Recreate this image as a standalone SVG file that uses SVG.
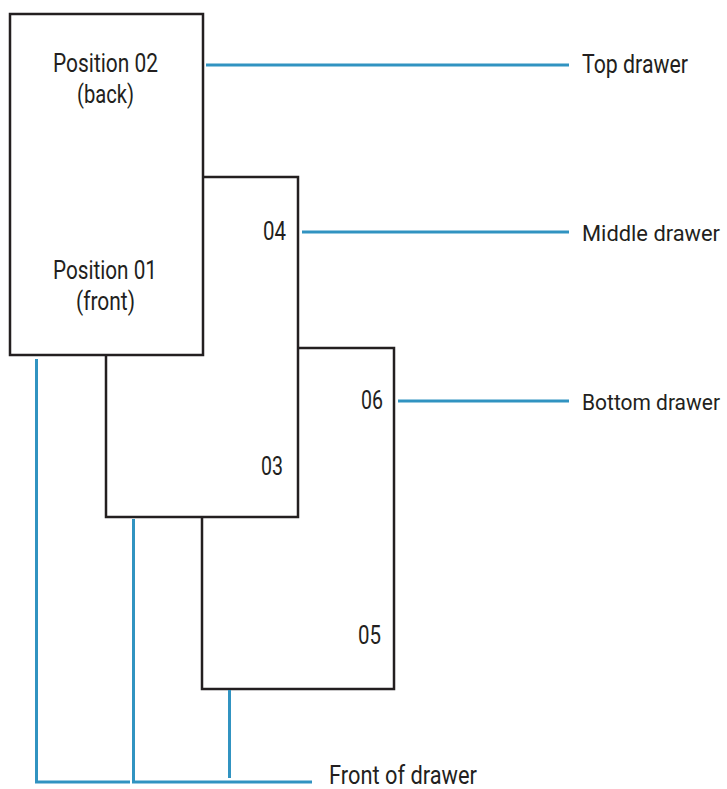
<svg xmlns="http://www.w3.org/2000/svg" width="727" height="789" viewBox="0 0 727 789">
<style>
.box{fill:#fff;stroke:#231f20;stroke-width:2.5}
.ln{fill:none;stroke:#3193c1;stroke-width:3}
text{font-family:Roboto,"Liberation Sans",sans-serif;font-size:25px;fill:#231f20}
.edge{font-size:22.5px}
.edge2{font-size:21.5px}
</style>
<rect width="727" height="789" fill="#fff"/>
<g id="bottom-drawer"><rect class="box" x="202" y="348" width="192" height="341"/>
<text x="361" y="409" textLength="22" lengthAdjust="spacingAndGlyphs">06</text>
<text x="358" y="644" textLength="23" lengthAdjust="spacingAndGlyphs">05</text></g>
<g id="middle-drawer"><rect class="box" x="106" y="177" width="192" height="340"/>
<text x="263" y="240" textLength="23" lengthAdjust="spacingAndGlyphs">04</text>
<text x="261" y="475" textLength="22" lengthAdjust="spacingAndGlyphs">03</text></g>
<g id="top-drawer"><rect class="box" x="10" y="14" width="193" height="341"/>
<text x="53" y="72" textLength="105" lengthAdjust="spacingAndGlyphs">Position 02</text>
<text x="77" y="103" textLength="57" lengthAdjust="spacingAndGlyphs">(back)</text>
<text x="53" y="279" textLength="104" lengthAdjust="spacingAndGlyphs">Position 01</text>
<text x="76" y="310" textLength="59" lengthAdjust="spacingAndGlyphs">(front)</text></g>
<g id="connectors">
<line class="ln" x1="206" y1="65" x2="569" y2="65"/>
<line class="ln" x1="302" y1="232" x2="569" y2="232"/>
<line class="ln" x1="398" y1="401" x2="569" y2="401"/>
<polyline class="ln" points="36.5,359 36.5,782 130,782"/>
<polyline class="ln" points="133.5,519 133.5,782 312,782"/>
<line class="ln" x1="229.5" y1="690" x2="229.5" y2="778"/>
</g>
<g id="labels">
<text x="582" y="73" textLength="106" lengthAdjust="spacingAndGlyphs">Top drawer</text>
<text class="edge" x="582" y="241" textLength="138" lengthAdjust="spacingAndGlyphs">Middle drawer</text>
<text class="edge2" x="582" y="410" textLength="138" lengthAdjust="spacingAndGlyphs">Bottom drawer</text>
<text x="329" y="784" textLength="148" lengthAdjust="spacingAndGlyphs">Front of drawer</text>
</g>
</svg>
